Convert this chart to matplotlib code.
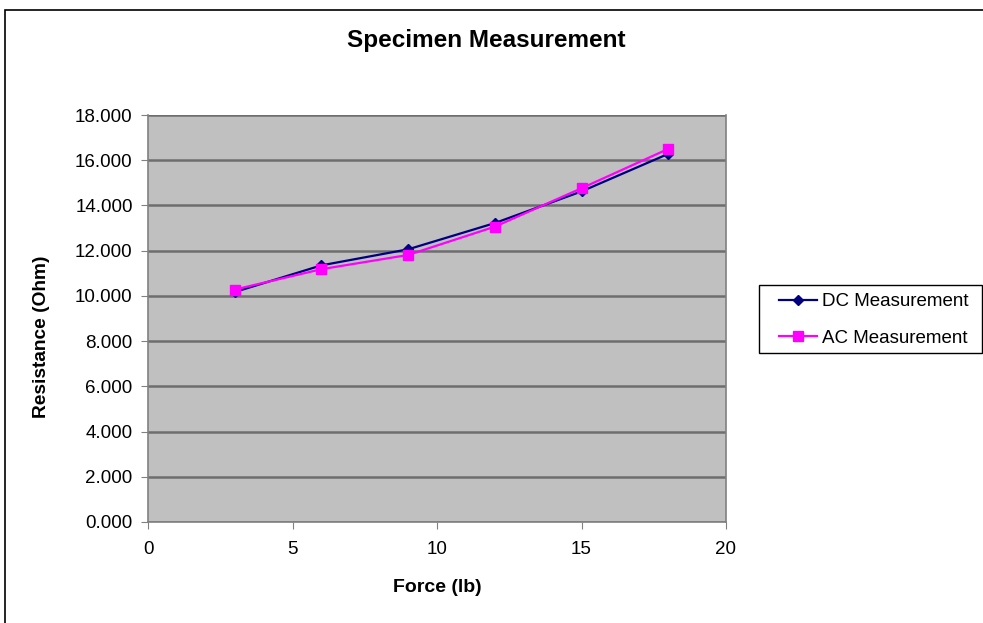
import matplotlib
matplotlib.use("Agg")
import matplotlib.pyplot as plt
from matplotlib.patches import Rectangle
from matplotlib.ticker import FormatStrFormatter

plt.rcParams["font.family"] = ["Liberation Sans", "DejaVu Sans"]

W, H = 983, 623

force = [3, 6, 9, 12, 15, 18]
dc_vals = [10.17, 11.35, 12.06, 13.22, 14.62, 16.28]
ac_vals = [10.28, 11.18, 11.81, 13.06, 14.76, 16.50]

fig = plt.figure(figsize=(W / 100, H / 100), dpi=100)
ax = fig.add_axes([148 / W, 1 - 522 / H, 578 / W, 407 / H])
ax.set_facecolor("#c0c0c0")

# outer chart border
fig.patches.append(Rectangle((5 / W, -0.01), 1.0, 1 - 10 / H + 0.01,
                             transform=fig.transFigure, fill=False,
                             edgecolor="black", linewidth=1.2))

ax.plot(force, dc_vals, color="#000080", marker="D", markersize=5,
        linewidth=1.6, label="DC Measurement", zorder=3)
ax.plot(force, ac_vals, color="#ff00ff", marker="s", markersize=7.5,
        linewidth=1.6, label="AC Measurement", zorder=4)

ax.set_xlim(0, 20)
ax.set_ylim(0, 18)
ax.set_xticks([0, 5, 10, 15, 20])
ax.set_yticks([0, 2, 4, 6, 8, 10, 12, 14, 16, 18])
ax.yaxis.set_major_formatter(FormatStrFormatter("%.3f"))
ax.grid(axis="y", color="#6e6e6e", linewidth=1.8)
ax.set_axisbelow(True)

for side in ("top", "right", "left", "bottom"):
    ax.spines[side].set_color("#808080")
    ax.spines[side].set_linewidth(1.2)
ax.spines["top"].set_visible(False)
ax.tick_params(axis="both", direction="out", length=5, color="#808080",
               labelsize=13.5, pad=6)
ax.tick_params(axis="x", pad=9)

fig.text(486 / W, 1 - 40 / H, "Specimen Measurement", fontsize=17.5,
         fontweight="bold", ha="center", va="center")
fig.text(437 / W, 1 - 588 / H, "Force (lb)", fontsize=14,
         fontweight="bold", ha="center", va="center")
fig.text(42 / W, 1 - 337 / H, "Resistance (Ohm)", fontsize=13.8,
         fontweight="bold", ha="center", va="center", rotation=90)

# legend box drawn separately to get Excel-like padding
fig.patches.append(Rectangle((759 / W, 1 - 353 / H), 223 / W, 68 / H,
                             transform=fig.transFigure, fill=False,
                             edgecolor="black", linewidth=1.0))
fig.legend(loc="center left", bbox_to_anchor=(779 / W, 1 - 320 / H),
           frameon=False, fontsize=13.5, handlelength=2.0, borderpad=0,
           labelspacing=1.05, handletextpad=0.3, borderaxespad=0)

fig.savefig("out.png", dpi=100)
